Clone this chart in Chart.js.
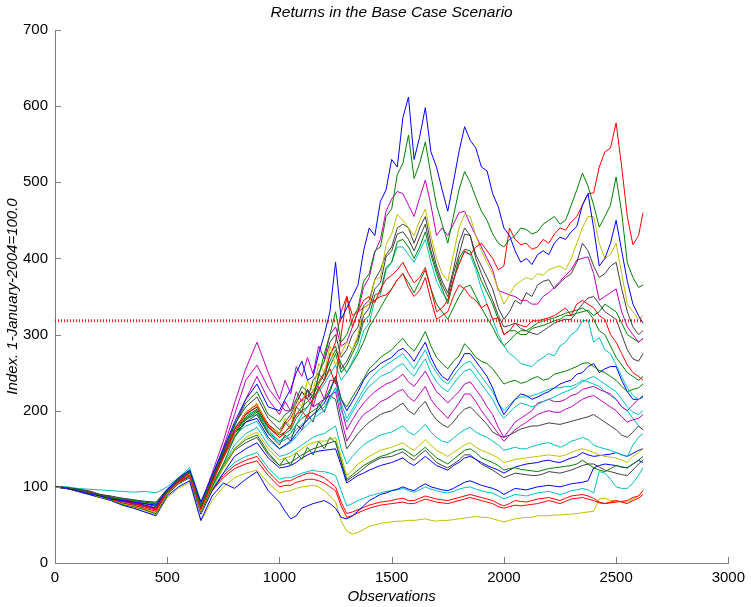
<!DOCTYPE html>
<html>
<head>
<meta charset="utf-8">
<script src="https://cdn.jsdelivr.net/npm/chart.js@4.4.1/dist/chart.umd.min.js"></script>
<style>
  html, body { margin: 0; padding: 0; background: #fff; }
  #wrap { width: 751px; height: 607px; }
</style>
</head>
<body>
<div id="wrap"><canvas id="returnsChart" width="751" height="607"></canvas></div>
<script>
// observation index of each sampled point (every 50 early, every 25 later)
const observations = [0, 50, 100, 150, 200, 250, 300, 350, 400, 450,
  500, 550, 600, 650, 700, 750, 800, 850, 900, 950,
  1000, 1025, 1050, 1075, 1100, 1125, 1150, 1175, 1200, 1225,
  1250, 1275, 1300, 1325, 1350, 1375, 1400, 1425, 1450, 1475,
  1500, 1525, 1550, 1575, 1600, 1625, 1650, 1675, 1700, 1725,
  1750, 1775, 1800, 1825, 1850, 1875, 1900, 1925, 1950, 1975,
  2000, 2025, 2050, 2075, 2100, 2125, 2150, 2175, 2200, 2225,
  2250, 2275, 2300, 2325, 2350, 2375, 2400, 2425, 2450, 2475,
  2500, 2525, 2550, 2575, 2600, 2620];

// red dotted reference level
const refLevel = 318;
const refSpan = [0, 2620];

const xTicks = [0, 500, 1000, 1500, 2000, 2500, 3000];
const yTicks = [0, 100, 200, 300, 400, 500, 600, 700];

const s01 = [100, 98, 95, 91, 88, 84, 82, 80, 78, 76, 96, 112, 122, 80, 115, 150, 185, 215, 235, 205,
  200, 215, 228, 250, 265, 240, 245, 275, 300, 330,
  395, 320, 335, 350, 365, 410, 440, 430, 475, 490,
  530, 520, 585, 612, 530, 560, 598, 540, 520, 490,
  462, 500, 540, 573, 555, 545, 520, 515, 485, 468,
  440, 430, 410, 395, 400, 392, 405, 410, 405, 420,
  428, 425, 435, 442, 470, 485, 440, 390, 400, 420,
  450, 410, 370, 340, 325, 315];
const s02 = [100, 99, 96, 92, 89, 85, 84, 82, 80, 78, 94, 110, 120, 75, 112, 148, 180, 210, 225, 195,
  185, 195, 200, 215, 232, 225, 220, 245, 275, 300,
  330, 290, 300, 320, 335, 370, 380, 410, 415, 455,
  465, 510, 525, 562, 505, 525, 553, 510, 470, 445,
  420, 455, 490, 514, 500, 480, 462, 450, 432, 420,
  415, 425, 430, 440, 438, 432, 435, 445, 450, 455,
  445, 450, 470, 490, 512, 495, 470, 441, 455, 470,
  507, 460, 394, 375, 362, 365];
const s03 = [100, 99, 95, 93, 88, 84, 79, 76, 72, 68, 93, 106, 115, 70, 105, 138, 172, 195, 205, 180,
  165, 172, 180, 195, 200, 190, 215, 228, 240, 255,
  235, 300, 350, 310, 330, 345, 350, 342, 360, 372,
  378, 385, 395, 380, 368, 375, 388, 360, 330, 335,
  345, 372, 392, 410, 405, 415, 420, 410, 400, 385,
  390, 440, 425, 418, 420, 412, 415, 425, 420, 432,
  440, 437, 448, 455, 470, 485, 486, 520, 540, 545,
  578, 520, 455, 418, 430, 460];
const s04 = [100, 98, 95, 92, 87, 84, 78, 75, 71, 66, 92, 105, 117, 68, 104, 138, 170, 198, 210, 180,
  170, 190, 178, 215, 205, 240, 225, 262, 250, 285,
  260, 275, 290, 280, 300, 335, 340, 372, 375, 418,
  432, 458, 450, 440, 430, 450, 465, 430, 400, 380,
  370, 405, 440, 458, 455, 430, 410, 395, 380, 360,
  340, 352, 365, 370, 375, 372, 380, 378, 385, 388,
  390, 385, 400, 420, 440, 455, 455, 420, 400, 405,
  420, 380, 340, 330, 320, 325];
const s05 = [100, 99, 97, 95, 90, 88, 85, 83, 81, 80, 97, 110, 121, 74, 110, 145, 182, 205, 218, 190,
  175, 185, 195, 210, 225, 215, 240, 250, 265, 290,
  300, 270, 280, 300, 310, 338, 345, 372, 385, 405,
  415, 440, 445, 440, 420, 440, 455, 420, 390, 370,
  355, 385, 420, 440, 430, 405, 390, 375, 360, 335,
  320, 330, 345, 340, 355, 350, 365, 370, 372, 360,
  368, 375, 380, 395, 420, 410, 390, 375, 380, 390,
  395, 360, 330, 310, 300, 305];
const s06 = [100, 98, 96, 92, 88, 85, 83, 81, 78, 75, 95, 109, 119, 76, 118, 160, 210, 255, 290, 250,
  215, 240, 222, 258, 245, 270, 248, 285, 268, 300,
  310, 285, 290, 310, 330, 362, 375, 408, 425, 462,
  478, 488, 485, 470, 455, 480, 503, 470, 430, 440,
  430, 445, 460, 462, 445, 430, 415, 400, 385, 358,
  355, 352, 350, 345, 345, 340, 340, 350, 355, 362,
  370, 378, 385, 398, 400, 402, 380, 345, 350, 355,
  360, 330, 310, 300, 290, 295];
const s07 = [100, 99, 95, 92, 89, 85, 82, 79, 75, 71, 94, 107, 117, 71, 107, 140, 175, 198, 208, 182,
  170, 182, 190, 205, 215, 220, 225, 238, 250, 272,
  290, 330, 350, 325, 330, 335, 340, 345, 350, 352,
  360, 372, 380, 362, 350, 358, 375, 345, 320, 325,
  330, 350, 365, 360, 350, 345, 335, 340, 320, 322,
  300, 305, 315, 312, 310, 318, 318, 320, 322, 325,
  330, 335, 325, 340, 345, 340, 335, 325, 320, 300,
  290, 275, 260, 250, 245, 240];
const s08 = [100, 98, 96, 93, 89, 86, 84, 82, 80, 77, 96, 108, 116, 73, 106, 139, 170, 190, 200, 178,
  165, 170, 175, 190, 200, 205, 215, 228, 240, 258,
  275, 250, 260, 275, 290, 318, 325, 352, 355, 388,
  395, 422, 425, 415, 400, 415, 435, 405, 380, 360,
  340, 370, 400, 412, 410, 390, 370, 355, 340, 320,
  300, 305, 305, 300, 300, 308, 310, 312, 315, 318,
  320, 325, 325, 328, 330, 332, 325, 330, 340, 335,
  330, 315, 300, 295, 290, 295];
const s09 = [100, 99, 97, 94, 90, 87, 82, 80, 78, 74, 96, 110, 120, 72, 110, 143, 176, 196, 205, 182,
  170, 185, 176, 205, 198, 228, 215, 248, 240, 275,
  285, 255, 265, 280, 295, 325, 335, 360, 368, 402,
  410, 432, 435, 425, 410, 428, 445, 410, 385, 365,
  350, 380, 405, 432, 430, 400, 380, 362, 345, 325,
  310, 312, 315, 308, 305, 302, 300, 305, 310, 315,
  318, 320, 320, 330, 340, 348, 350, 340, 330, 325,
  320, 300, 280, 268, 265, 275];
const s10 = [100, 100, 98, 97, 96, 95, 94, 93, 94, 92, 100, 112, 125, 80, 115, 150, 178, 195, 200, 175,
  160, 165, 170, 182, 195, 205, 215, 225, 235, 248,
  260, 240, 250, 265, 280, 305, 315, 345, 352, 385,
  395, 415, 415, 405, 395, 410, 425, 395, 370, 355,
  345, 370, 395, 408, 405, 385, 360, 340, 320, 300,
  285, 275, 270, 262, 260, 258, 265, 270, 275, 272,
  285, 290, 300, 305, 318, 319, 290, 296, 280, 275,
  260, 245, 230, 220, 215, 220];
const s11 = [100, 98, 95, 91, 87, 83, 77, 74, 70, 65, 90, 104, 114, 67, 100, 130, 165, 188, 198, 172,
  160, 165, 170, 182, 190, 195, 200, 205, 215, 228,
  245, 215, 205, 218, 230, 242, 255, 262, 270, 275,
  280, 288, 295, 285, 278, 290, 304, 285, 270, 262,
  255, 265, 272, 288, 280, 270, 265, 262, 255, 245,
  235, 238, 240, 236, 238, 242, 245, 240, 242, 248,
  250, 252, 255, 258, 262, 263, 258, 253, 250, 245,
  240, 232, 225, 228, 230, 235];
const s12 = [100, 99, 96, 93, 89, 86, 82, 79, 76, 72, 95, 109, 118, 74, 108, 142, 170, 185, 190, 165,
  150, 155, 160, 170, 180, 188, 195, 202, 210, 225,
  245, 215, 200, 212, 225, 240, 250, 255, 262, 266,
  270, 278, 282, 275, 265, 278, 290, 270, 255, 245,
  240, 252, 262, 275, 275, 265, 255, 245, 230, 210,
  195, 205, 215, 222, 220, 215, 218, 222, 225, 230,
  235, 238, 240, 248, 250, 258, 262, 250, 255, 258,
  258, 240, 225, 215, 215, 218];
const s13 = [100, 100, 97, 94, 90, 86, 85, 83, 81, 79, 97, 111, 122, 76, 110, 140, 168, 180, 186, 162,
  150, 154, 158, 166, 175, 182, 190, 195, 200, 215,
  230, 200, 185, 198, 210, 222, 232, 238, 245, 248,
  252, 258, 262, 252, 245, 258, 268, 250, 238, 230,
  225, 235, 245, 252, 255, 245, 235, 225, 215, 200,
  190, 198, 205, 210, 208, 205, 208, 212, 215, 218,
  222, 225, 228, 232, 238, 242, 245, 240, 235, 230,
  225, 215, 205, 198, 195, 200];
const s14 = [100, 98, 95, 92, 88, 84, 81, 78, 74, 70, 93, 106, 116, 72, 108, 145, 180, 215, 245, 215,
  195, 212, 200, 225, 212, 228, 205, 232, 215, 240,
  240, 205, 175, 188, 200, 210, 218, 225, 230, 235,
  238, 242, 248, 238, 232, 242, 252, 238, 225, 218,
  210, 218, 225, 235, 238, 228, 218, 205, 195, 178,
  165, 175, 185, 190, 195, 200, 210, 212, 215, 212,
  212, 215, 220, 222, 228, 230, 232, 228, 225, 222,
  215, 205, 200, 208, 215, 220];
const s15 = [100, 99, 96, 93, 89, 85, 82, 79, 75, 71, 94, 108, 119, 75, 112, 152, 195, 240, 260, 230,
  210, 200, 200, 210, 225, 215, 205, 210, 215, 220,
  225, 190, 160, 172, 185, 195, 200, 205, 212, 215,
  220, 225, 228, 218, 212, 222, 232, 215, 205, 198,
  190, 200, 210, 222, 222, 212, 200, 190, 180, 170,
  160, 168, 175, 180, 185, 190, 195, 198, 200, 198,
  198, 202, 205, 210, 215, 218, 220, 215, 210, 205,
  200, 192, 185, 188, 190, 195];
const s16 = [100, 98, 96, 92, 88, 85, 81, 78, 75, 71, 94, 108, 118, 73, 106, 138, 165, 185, 195, 170,
  155, 168, 160, 182, 175, 195, 185, 210, 198, 220,
  215, 180, 150, 160, 170, 178, 185, 190, 195, 198,
  200, 205, 210, 200, 195, 205, 212, 198, 188, 182,
  178, 185, 195, 202, 205, 198, 190, 182, 172, 168,
  165, 168, 172, 176, 178, 180, 180, 182, 184, 183,
  182, 184, 186, 188, 190, 192, 195, 190, 185, 180,
  175, 168, 165, 172, 180, 175];
const s17 = [100, 99, 96, 92, 89, 85, 79, 76, 71, 66, 93, 107, 117, 70, 103, 130, 155, 170, 178, 155,
  140, 142, 145, 150, 155, 160, 165, 168, 170, 175,
  180, 150, 130, 140, 148, 155, 160, 164, 168, 170,
  172, 176, 180, 172, 168, 175, 182, 172, 165, 160,
  158, 164, 170, 175, 178, 172, 168, 165, 160, 155,
  148, 150, 152, 150, 150, 153, 155, 157, 158, 155,
  152, 155, 160, 162, 165, 162, 155, 152, 150, 148,
  145, 142, 140, 155, 165, 170];
const s18 = [100, 98, 95, 92, 87, 83, 78, 74, 69, 64, 90, 104, 113, 66, 98, 125, 150, 165, 172, 150,
  135, 138, 140, 145, 150, 155, 158, 160, 160, 162,
  165, 140, 115, 122, 130, 135, 140, 144, 148, 150,
  152, 155, 158, 152, 148, 155, 162, 155, 148, 144,
  140, 145, 150, 155, 158, 152, 148, 145, 142, 138,
  132, 134, 136, 137, 138, 139, 140, 141, 142, 141,
  140, 142, 145, 148, 150, 148, 145, 142, 140, 139,
  138, 135, 132, 140, 145, 150];
const s19 = [100, 99, 97, 93, 90, 86, 83, 79, 76, 72, 96, 109, 120, 73, 104, 128, 150, 162, 168, 145,
  128, 138, 128, 145, 136, 152, 142, 160, 150, 165,
  158, 135, 110, 116, 122, 128, 132, 136, 140, 142,
  145, 148, 150, 145, 140, 146, 152, 145, 138, 134,
  130, 136, 142, 148, 150, 145, 138, 135, 132, 128,
  122, 124, 125, 123, 122, 121, 120, 122, 124, 125,
  126, 127, 128, 130, 135, 130, 125, 122, 120, 124,
  128, 126, 125, 130, 135, 140];
const s20 = [100, 98, 95, 92, 88, 84, 78, 74, 70, 65, 92, 104, 112, 64, 95, 118, 140, 150, 158, 138,
  125, 126, 128, 132, 138, 142, 145, 147, 148, 149,
  150, 128, 105, 110, 115, 118, 122, 125, 128, 130,
  132, 135, 138, 132, 128, 134, 140, 134, 128, 125,
  122, 128, 132, 138, 140, 136, 132, 128, 125, 122,
  118, 122, 126, 128, 130, 131, 132, 134, 135, 133,
  132, 135, 138, 140, 145, 142, 140, 141, 142, 143,
  145, 142, 140, 144, 148, 150];
const s21 = [100, 99, 96, 93, 89, 85, 82, 79, 75, 71, 94, 106, 116, 70, 100, 125, 148, 158, 165, 142,
  128, 130, 132, 137, 142, 146, 150, 152, 155, 158,
  160, 132, 108, 113, 118, 124, 130, 134, 138, 139,
  140, 143, 146, 140, 135, 142, 148, 140, 132, 128,
  125, 130, 135, 142, 142, 136, 130, 126, 122, 117,
  112, 115, 118, 117, 116, 115, 115, 117, 120, 119,
  118, 120, 122, 125, 128, 130, 130, 126, 122, 120,
  118, 116, 115, 122, 130, 135];
const s22 = [100, 98, 94, 90, 86, 82, 76, 72, 67, 62, 88, 100, 108, 56, 88, 105, 98, 110, 120, 95,
  80, 68, 58, 62, 72, 75, 78, 80, 82, 78,
  72, 60, 58, 62, 68, 75, 82, 86, 90, 92,
  95, 97, 100, 97, 95, 100, 104, 100, 98, 96,
  95, 98, 102, 106, 108, 105, 102, 100, 98, 95,
  90, 94, 98, 97, 96, 98, 100, 101, 102, 101,
  100, 102, 104, 105, 106, 108, 125, 128, 130, 129,
  128, 126, 125, 130, 135, 132];
const s23 = [100, 99, 96, 93, 89, 86, 82, 79, 76, 72, 95, 108, 118, 68, 98, 118, 132, 140, 145, 125,
  110, 112, 112, 115, 118, 120, 122, 120, 120, 118,
  115, 95, 75, 78, 82, 85, 88, 90, 92, 94,
  95, 96, 98, 95, 93, 96, 100, 97, 95, 93,
  92, 94, 97, 99, 100, 97, 95, 93, 92, 88,
  84, 87, 90, 89, 88, 90, 92, 93, 94, 92,
  90, 92, 95, 96, 98, 96, 92, 120, 118, 110,
  100, 98, 98, 105, 115, 125];
const s24 = [100, 98, 95, 92, 88, 84, 78, 75, 70, 66, 92, 104, 114, 66, 96, 115, 128, 135, 140, 120,
  105, 108, 108, 112, 115, 118, 118, 115, 112, 106,
  100, 80, 65, 67, 70, 73, 76, 78, 80, 81,
  82, 84, 85, 82, 82, 85, 88, 86, 84, 83,
  82, 84, 86, 88, 90, 88, 86, 84, 82, 78,
  75, 78, 82, 81, 80, 82, 84, 85, 86, 84,
  82, 85, 88, 89, 90, 88, 85, 80, 78, 80,
  82, 80, 78, 82, 85, 90];
const s25 = [100, 99, 96, 92, 88, 85, 81, 78, 74, 70, 93, 105, 115, 68, 95, 112, 124, 130, 134, 115,
  100, 102, 102, 106, 108, 110, 110, 108, 105, 100,
  95, 75, 60, 62, 66, 69, 72, 74, 76, 77,
  78, 79, 80, 78, 78, 81, 84, 82, 80, 79,
  78, 80, 82, 84, 86, 84, 82, 80, 78, 74,
  72, 74, 76, 75, 76, 77, 78, 80, 82, 80,
  78, 81, 84, 85, 86, 84, 82, 79, 78, 79,
  80, 81, 82, 86, 88, 95];
const s26 = [100, 98, 94, 91, 86, 82, 76, 72, 67, 63, 86, 98, 106, 55, 82, 100, 112, 118, 122, 105,
  92, 94, 95, 98, 100, 101, 102, 100, 95, 88,
  80, 55, 42, 38, 40, 44, 48, 50, 52, 53,
  54, 55, 55, 56, 56, 57, 58, 56, 55, 56,
  56, 57, 58, 59, 60, 61, 60, 60, 58, 56,
  54, 56, 58, 59, 60, 60, 62, 62, 62, 63,
  63, 64, 64, 65, 66, 67, 68, 84, 85, 82,
  82, 80, 80, 84, 88, 95];
const s27 = [100, 99, 95, 92, 88, 84, 81, 77, 74, 70, 94, 108, 118, 72, 106, 140, 172, 192, 202, 178,
  168, 172, 180, 195, 205, 212, 220, 235, 248, 265,
  280, 262, 250, 262, 275, 290, 310, 322, 335, 348,
  360, 372, 380, 368, 355, 370, 385, 360, 340, 330,
  320, 335, 350, 362, 365, 350, 335, 322, 310, 295,
  285, 292, 300, 305, 305, 310, 315, 318, 320, 322,
  325, 328, 330, 332, 335, 330, 320, 305, 300, 285,
  270, 260, 250, 245, 240, 245];
const s28 = [100, 98, 96, 93, 89, 85, 82, 78, 75, 71, 94, 107, 117, 74, 107, 140, 172, 190, 195, 170,
  158, 162, 165, 175, 182, 188, 195, 200, 205, 218,
  230, 210, 190, 202, 215, 228, 240, 248, 255, 260,
  265, 270, 275, 265, 255, 268, 280, 262, 250, 240,
  235, 245, 255, 262, 265, 255, 245, 235, 225, 210,
  200, 208, 215, 218, 218, 220, 222, 225, 228, 230,
  230, 232, 232, 235, 240, 238, 235, 232, 225, 220,
  215, 205, 200, 190, 180, 175];

const seriesList = [s01, s02, s03, s04, s05, s06, s07, s08, s09, s10, s11, s12, s13, s14,
  s15, s16, s17, s18, s19, s20, s21, s22, s23, s24, s25, s26, s27, s28];

const BLUE = '#0000ff', GREEN = '#008000', RED = '#ff0000', CYAN = '#00bfbf',
  MAGENTA = '#bf00bf', YELLOW = '#bfbf00', DARK = '#404040';
const seriesColors = [BLUE, GREEN, RED, YELLOW, DARK, MAGENTA, RED, GREEN, DARK, CYAN, GREEN, BLUE, CYAN, MAGENTA,
  MAGENTA, DARK, CYAN, YELLOW, GREEN, BLUE, DARK, BLUE, CYAN, RED, RED, YELLOW, GREEN, CYAN];

Chart.defaults.font.family = "'Liberation Sans', Arial, sans-serif";
Chart.defaults.color = '#000';

// MATLAB style tick marks pointing into the plot
const inwardTicks = {
  id: 'inwardTicks',
  afterDraw(chart) {
    const { ctx, chartArea, scales: { x, y } } = chart;
    ctx.save();
    ctx.strokeStyle = '#7f7f7f';
    ctx.lineWidth = 1;
    xTicks.forEach(v => {
      const px = Math.round(x.getPixelForValue(v)) + 0.5;
      ctx.beginPath();
      ctx.moveTo(px, chartArea.bottom);
      ctx.lineTo(px, chartArea.bottom - 6);
      ctx.stroke();
    });
    yTicks.forEach(v => {
      const py = Math.round(y.getPixelForValue(v)) + 0.5;
      ctx.beginPath();
      ctx.moveTo(chartArea.left, py);
      ctx.lineTo(chartArea.left + 6, py);
      ctx.stroke();
    });
    ctx.restore();
  }
};

const datasets = [{
  data: refSpan.map(o => ({ x: o, y: refLevel })),
  borderColor: '#e02020',
  borderWidth: 3,
  borderDash: [1, 2],
  pointRadius: 0
}];
seriesList.forEach((vals, i) => {
  datasets.push({
    data: vals.map((v, j) => ({ x: observations[j], y: v })),
    borderColor: seriesColors[i],
    borderWidth: 1,
    pointRadius: 0,
    tension: 0
  });
});

const ctx = document.getElementById('returnsChart').getContext('2d');
const returnsChart = new Chart(ctx, {
  type: 'line',
  data: { datasets: datasets },
  options: {
    responsive: false,
    animation: false,
    layout: { padding: { left: 0, right: 18, top: 0, bottom: 0 } },
    plugins: {
      legend: { display: false },
      tooltip: { enabled: false },
      title: {
        display: true,
        fullSize: false,
        text: 'Returns in the Base Case Scenario',
        font: { size: 15.5, style: 'italic', weight: 'normal' },
        padding: { top: 3, bottom: 8.4 }
      }
    },
    scales: {
      x: {
        type: 'linear',
        min: 0,
        max: 3000,
        afterBuildTicks: s => { s.ticks = xTicks.map(v => ({ value: v })); },
        ticks: { padding: 6, font: { size: 15 }, maxRotation: 0, callback: v => String(v) },
        grid: { display: false, drawTicks: false },
        border: { display: true, color: '#7f7f7f' },
        title: {
          display: true,
          text: 'Observations',
          font: { size: 15, style: 'italic' },
          padding: { top: 0, bottom: 1 }
        },
        afterFit: s => { s.height = 44; }
      },
      y: {
        min: 0,
        max: 700,
        afterBuildTicks: s => { s.ticks = yTicks.map(v => ({ value: v })); },
        ticks: { padding: 7, font: { size: 15 }, callback: v => String(v) },
        grid: { display: false, drawTicks: false },
        border: { display: true, color: '#7f7f7f' },
        title: {
          display: true,
          text: 'Index. 1-January-2004=100.0',
          font: { size: 15, style: 'italic' },
          padding: { top: 4, bottom: 0 }
        },
        afterFit: s => { s.width = 55; }
      }
    }
  },
  plugins: [inwardTicks]
});
</script>
</body>
</html>
